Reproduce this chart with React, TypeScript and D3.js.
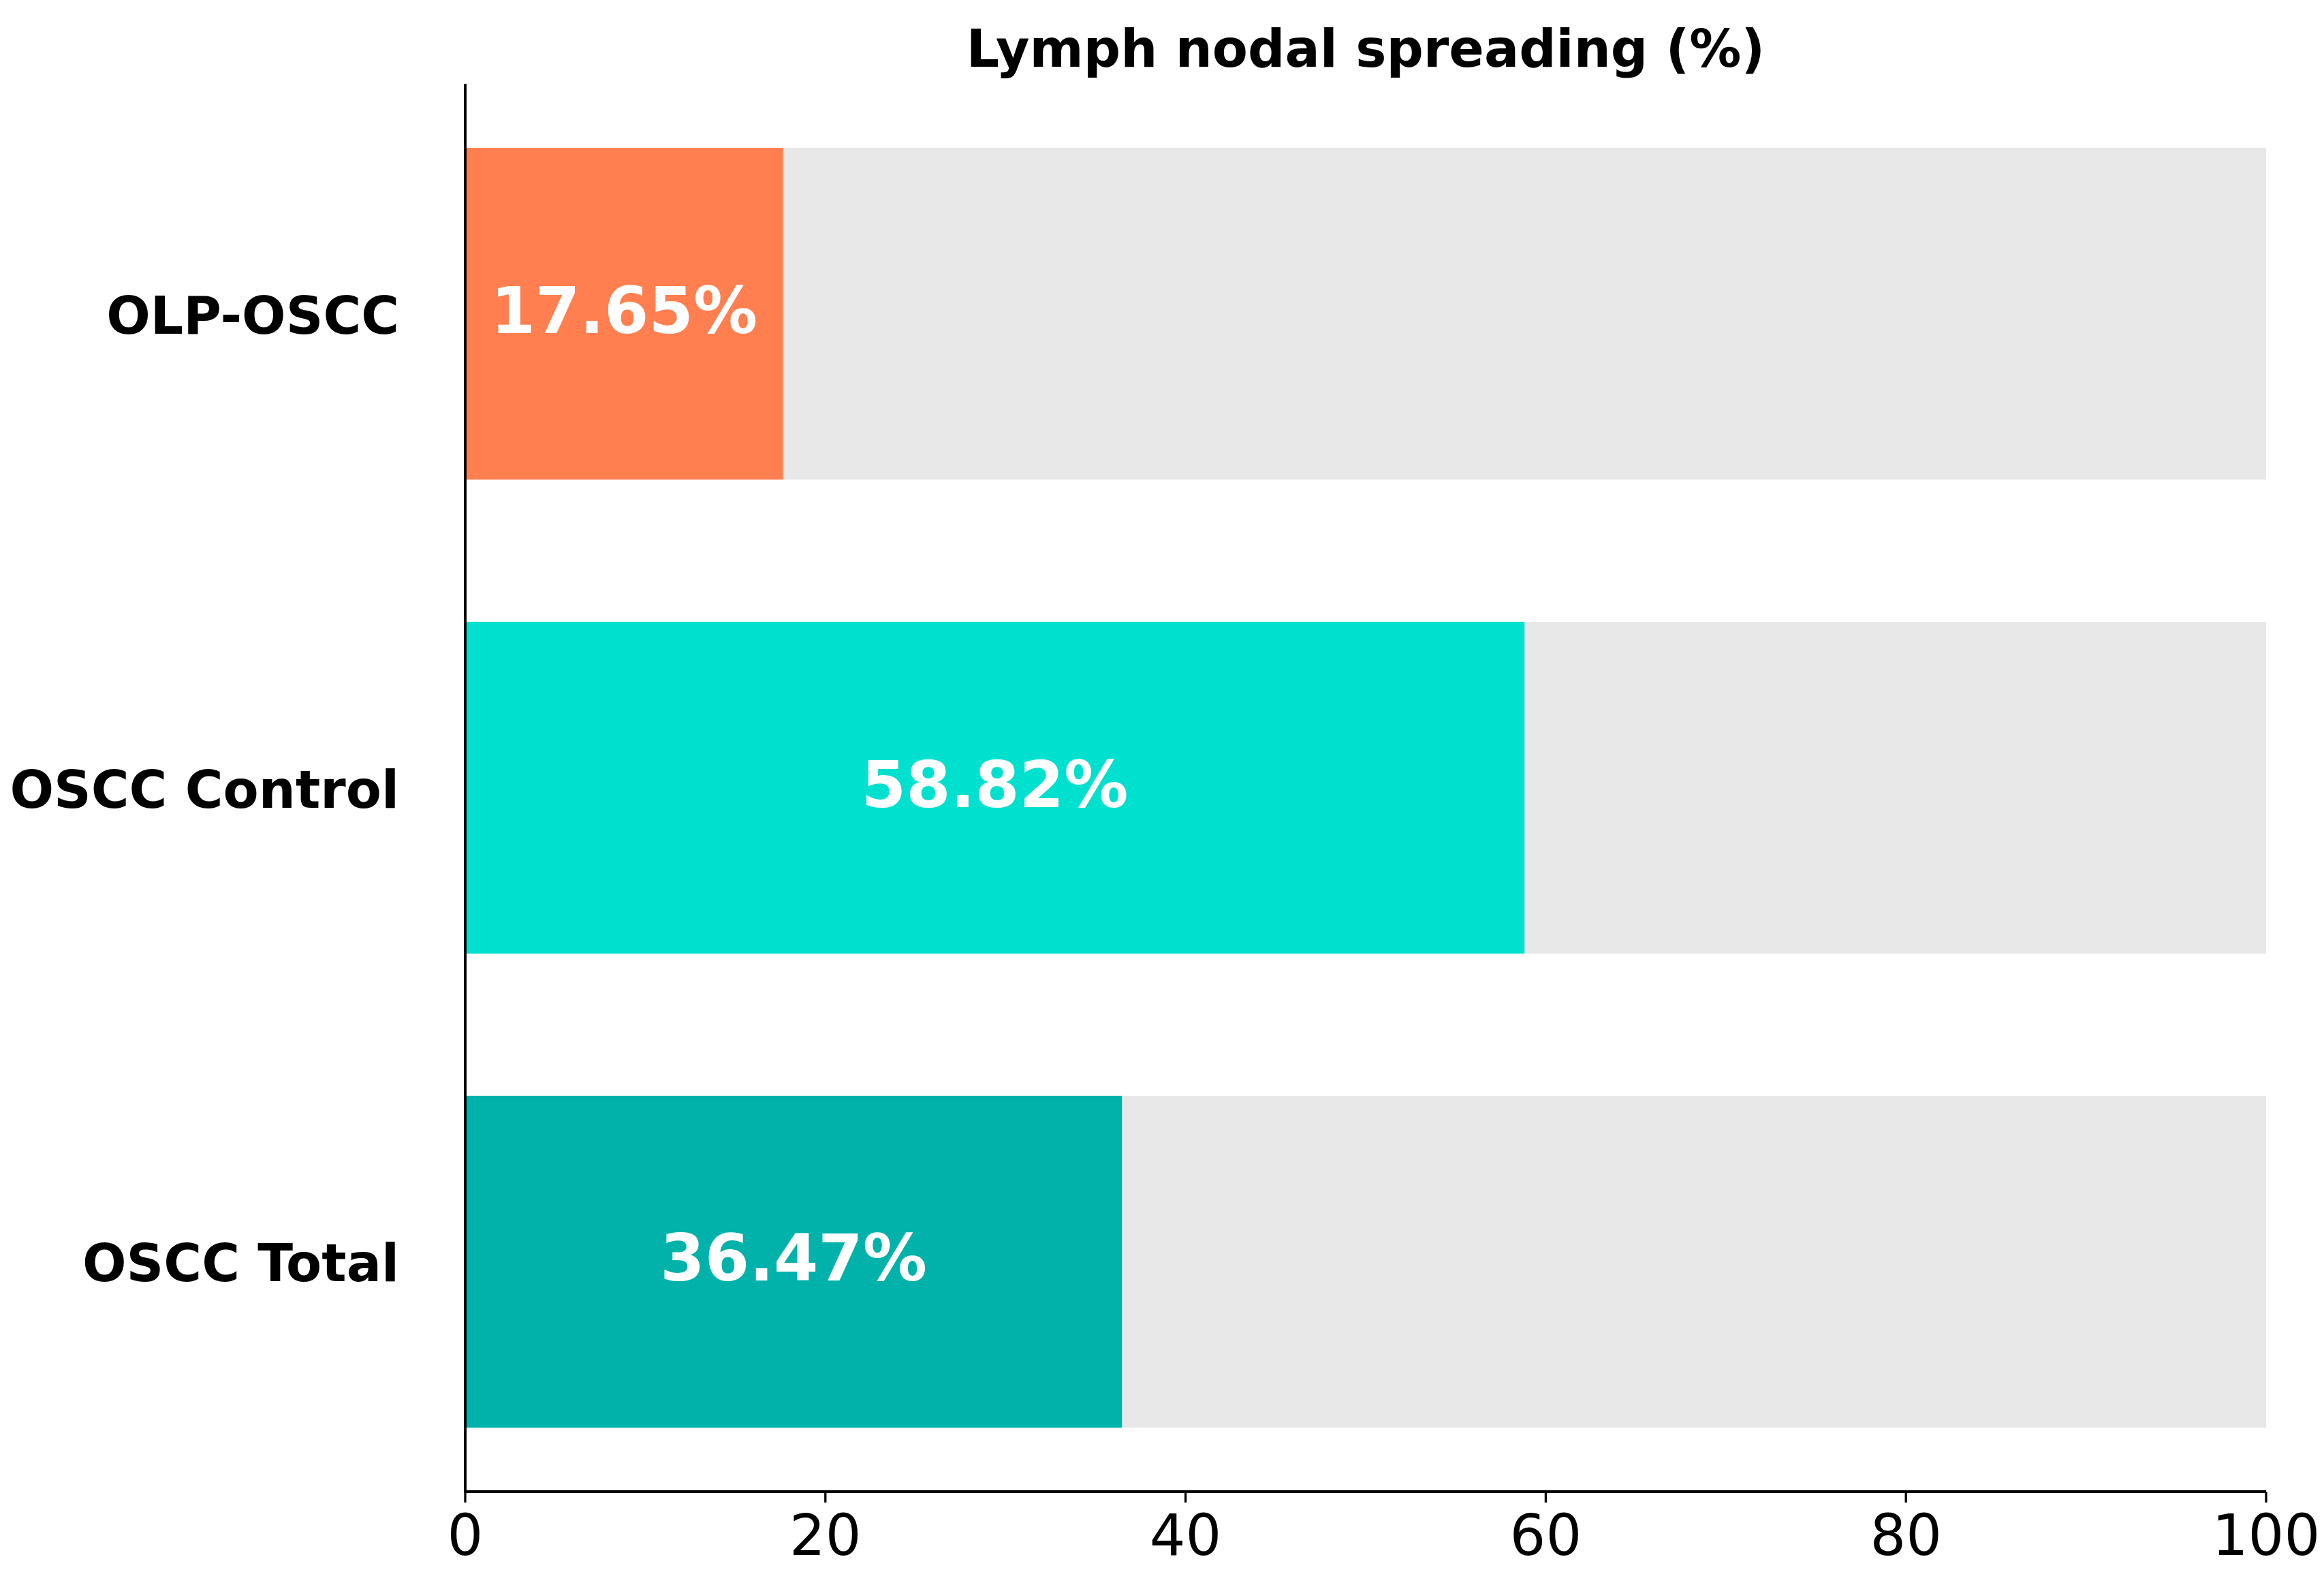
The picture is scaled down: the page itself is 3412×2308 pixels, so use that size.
import * as d3 from 'd3'

const WIDTH = 3412
const HEIGHT = 2308
const MARGIN = { left: 683, right: 85, top: 123, bottom: 118 }
const FONT = '"DejaVu Sans", Verdana, sans-serif'

const TITLE = 'Lymph nodal spreading (%)'
const categories = ['OSCC Total', 'OSCC Control', 'OLP-OSCC']
const values = [36.47, 58.82, 17.65]
const barColors = ['#00B2A9', '#00E0CF', '#FF7F50']
const xTicks = [0, 20, 40, 60, 80, 100]
const X_MAX = 100
const BAR_HEIGHT = 0.7

export default function App() {
  const innerW = WIDTH - MARGIN.left - MARGIN.right
  const innerH = HEIGHT - MARGIN.top - MARGIN.bottom

  const x = d3.scaleLinear().domain([0, X_MAX]).range([0, innerW])
  // matplotlib-like limits: bar extents plus 5% margin
  const lo = -BAR_HEIGHT / 2
  const hi = categories.length - 1 + BAR_HEIGHT / 2
  const pad = (hi - lo) * 0.05
  const y = d3
    .scaleLinear()
    .domain([lo - pad, hi + pad])
    .range([innerH, 0])

  const bh = y(0) - y(BAR_HEIGHT)

  return (
    <div style={{ position: 'fixed', left: 0, top: 0 }}>
      <svg
        width={WIDTH}
        height={HEIGHT}
        style={{ display: 'block', background: '#fff' }}
        fontFamily={FONT}
      >
        <text
          x={MARGIN.left + innerW / 2}
          y={98}
          textAnchor="middle"
          fontSize={76}
          fontWeight="bold"
          fill="#000"
        >
          {TITLE}
        </text>
        <g transform={`translate(${MARGIN.left},${MARGIN.top})`}>
          {categories.map((c, i) => {
            const cy = y(i)
            return (
              <g key={c}>
                <rect
                  x={x(0)}
                  y={cy - bh / 2}
                  width={x(X_MAX) - x(0)}
                  height={bh}
                  fill="#E8E8E8"
                />
                <rect
                  x={x(0)}
                  y={cy - bh / 2}
                  width={x(values[i]) - x(0)}
                  height={bh}
                  fill={barColors[i]}
                />
                <text
                  x={x(values[i] / 2)}
                  y={cy + 28}
                  textAnchor="middle"
                  fontSize={94}
                  fontWeight="bold"
                  fill="#fff"
                >
                  {values[i].toFixed(2)}%
                </text>
                <text
                  x={-97}
                  y={cy + 29}
                  textAnchor="end"
                  fontSize={76}
                  fontWeight="bold"
                  fill="#000"
                >
                  {c}
                </text>
              </g>
            )
          })}

          {/* y spine */}
          <line x1={0} x2={0} y1={0} y2={innerH} stroke="#000" strokeWidth={4} />

          {/* x axis */}
          <line
            x1={-2}
            x2={innerW}
            y1={innerH}
            y2={innerH}
            stroke="#000"
            strokeWidth={4}
          />
          {xTicks.map((t) => (
            <g key={t} transform={`translate(${x(t)},${innerH})`}>
              <line y1={0} y2={16} stroke="#000" strokeWidth={3.3} />
              <text
                y={93}
                textAnchor="middle"
                fontSize={83}
                fill="#000"
              >
                {t}
              </text>
            </g>
          ))}
        </g>
      </svg>
    </div>
  )
}
